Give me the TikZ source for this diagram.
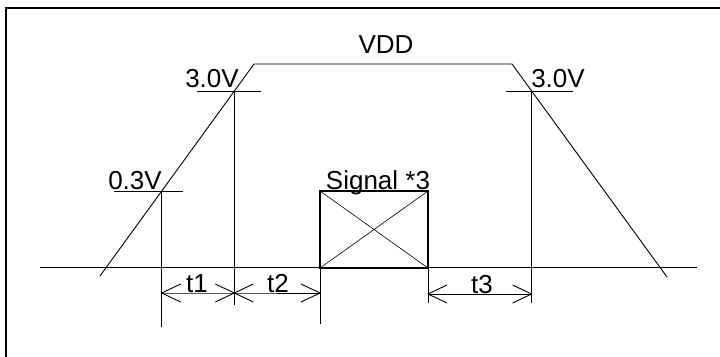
\documentclass[tikz,border=0pt]{standalone}
\usepackage{fontspec}
\setmainfont{Liberation Sans}
\usetikzlibrary{positioning, calc}

\tikzset{
    wave/.style={line width=0.9pt},
    level/.style={line width=0.9pt},
    ext/.style={line width=0.9pt},
    dim/.style={line width=0.9pt},
    barb/.pic={\draw[line width=0.9pt, line join=round] (19,-9) -- (0,0) -- (19,9);},
    lbl/.style={anchor=base, inner sep=0pt, font=\fontsize{26}{31}\selectfont},
}

\begin{document}
\begin{tikzpicture}[x=1pt, y=-1pt]
    \useasboundingbox (0,0) rectangle (720,356);
    \draw[line width=2pt] (6,360) -- (6,8) -- (724,8);

    % ground line
    \coordinate (gnd-l) at (40,267);
    \coordinate (gnd-r) at (697,267);
    \draw[wave] (gnd-l) -- (gnd-r);

    % supply ramp
    \coordinate (rise-lo) at (100,276);
    \coordinate (rise-hi) at (254,64);
    \coordinate (fall-hi) at (512,64);
    \coordinate (fall-lo) at (667,277);
    \draw[wave] (rise-lo) -- (rise-hi) -- (fall-hi) -- (fall-lo);
    \node[lbl] (vdd) at (386,53) {VDD};

    % threshold points
    \coordinate (p03) at (161.7,191);
    \coordinate (p30l) at (234.3,91);
    \coordinate (p30r) at (531.6,91);

    \draw[level] (114,191) -- (183,191);
    \draw[level] (197,91) -- (261,91);
    \draw[level] (506,91) -- (573,91);
    \node[lbl] (lv03) at (135,189) {0.3V};
    \node[lbl] (lv30l) at (212,87) {3.0V};
    \node[lbl] (lv30r) at (558,87) {3.0V};

    % signal box
    \coordinate (sig-sw) at (320,268);
    \coordinate (sig-ne) at (428,191);
    \draw[line width=0.6pt] (sig-sw) -- (sig-ne);
    \draw[line width=0.6pt] (sig-sw |- sig-ne) -- (sig-ne |- sig-sw);
    \draw[line width=2pt] (sig-sw) rectangle (sig-ne);
    \node[lbl] (sig) at (378,189) {Signal *3};

    % extension lines
    \coordinate (e1) at (p03 |- 0,327);
    \coordinate (e2) at (p30l |- 0,305);
    \coordinate (e3) at (sig-sw |- 0,324);
    \coordinate (e4) at (sig-ne |- 0,303);
    \coordinate (e5) at (p30r |- 0,303);
    \draw[ext] (p03) -- (e1);
    \draw[ext] (p30l) -- (e2);
    \draw[ext] (sig-sw) -- (e3);
    \draw[ext] (sig-ne |- sig-sw) -- (e4);
    \draw[ext] (p30r) -- (e5);

    % timing
    \coordinate (d1) at (p03 |- 0,293);
    \coordinate (d2) at (p30l |- 0,293);
    \coordinate (d3) at (sig-sw |- 0,293);
    \coordinate (d4) at (sig-ne |- 0,294);
    \coordinate (d5) at (p30r |- 0,294);
    \draw[dim] (d1) -- (d2) -- (d3);
    \draw[dim] (d4) -- (d5);
    \foreach \p in {d1, d2, d4} {
        \pic at (\p) {barb};
    };
    \foreach \p in {d2, d3, d5} {
        \pic[xscale=-1] at (\p) {barb};
    };
    \node[lbl] (t1) at (197,292) {t1};
    \node[lbl] (t2) at (278,292) {t2};
    \node[lbl] (t3) at (482,293) {t3};
\end{tikzpicture}
\end{document}
